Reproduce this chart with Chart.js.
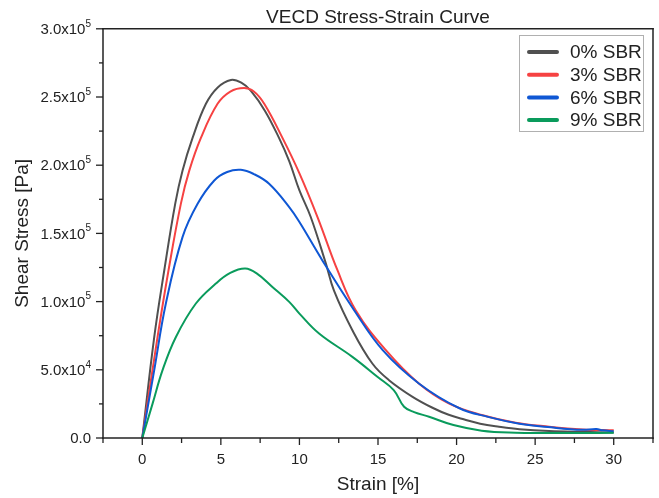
<!DOCTYPE html>
<html>
<head>
<meta charset="utf-8">
<script src="https://cdn.jsdelivr.net/npm/chart.js@4"></script>
<style>
  body { margin: 0; background: #fff; }
  canvas { display: block; }
</style>
</head>
<body>
<canvas id="chart" width="659" height="498"></canvas>
<script>
// Data (strain in %, stress in Pa)
let labels = ["0% SBR", "3% SBR", "6% SBR", "9% SBR"];
let colors = ["#505050", "#f64242", "#0f57d4", "#0a9b5c"];

let strain0 = [0, 0.76, 1.4, 2.1, 2.56, 3.2, 4.05, 4.8, 5.64, 6.3, 6.9, 7.8, 8.7, 9.35, 10, 10.72, 11.68, 12.2, 13.37, 14.64, 15.7, 17.2, 18.5, 19.5, 20.5, 21.5, 22.7, 24, 25.9, 28, 30];
let stress0 = [0, 74000, 123000, 172000, 196000, 220000, 245000, 257000, 262500, 260500, 254600, 240000, 220000, 203000, 181500, 162000, 128000, 108000, 79000, 54600, 42400, 30200, 22000, 17000, 13500, 10500, 8300, 6500, 5100, 4500, 4100];

let strain3 = [0, 0.97, 1.67, 2.46, 2.99, 3.73, 4.79, 5.6, 6.48, 7.1, 7.76, 8.92, 10, 11.15, 12.42, 13.58, 15.5, 17.6, 19.5, 21.6, 23.75, 25.9, 28, 30];
let stress3 = [0, 74000, 123000, 172000, 196000, 220000, 245000, 254000, 256600, 254000, 245000, 220000, 194000, 162000, 123000, 93700, 64400, 40000, 25400, 16800, 11200, 8300, 6300, 5600];

let strain6 = [0, 0.76, 1.5, 2.56, 3.52, 4.58, 5.4, 6.27, 7.1, 8.07, 9.35, 10, 11.46, 13.48, 15.3, 17.6, 20.15, 22, 24, 26, 28, 28.9, 29.3, 30];
let stress6 = [0, 49800, 98600, 147300, 171700, 188800, 195000, 196600, 193500, 186400, 169300, 158300, 130200, 93700, 64400, 40000, 22000, 15500, 10500, 7800, 6000, 6600, 5600, 5000];

let strain9 = [0, 0.66, 1.29, 2.14, 3.41, 4.68, 5.6, 6.55, 7.3, 8.28, 9.35, 10, 11.25, 13.37, 14.96, 16.0, 16.66, 17.3, 18.25, 19.8, 21.6, 23.75, 26, 28, 30];
let stress9 = [0, 25400, 49800, 74100, 98600, 113200, 121000, 124200, 120500, 110700, 99800, 91200, 76600, 59500, 44900, 35100, 22900, 19000, 15600, 9500, 5400, 3900, 3700, 3700, 3800];

let xMajor = [0, 5, 10, 15, 20, 25, 30];
let yMajor = [0, 50000, 100000, 150000, 200000, 250000, 300000];

let FONT = "'Liberation Sans', Arial, sans-serif";
let INK = "#222";

function pairs(xs, ys) {
    return xs.map((x, i) => ({ x: x, y: ys[i] }));
}

let series = [[strain0, stress0], [strain3, stress3], [strain6, stress6], [strain9, stress9]];
let datasets = series.map((s, i) => ({
    label: labels[i],
    data: pairs(s[0], s[1]),
    borderColor: colors[i],
    borderWidth: 2,
    pointRadius: 0,
    fill: false,
    tension: 0.4,
    order: 3 - i,
}));

function line(ctx, x1, y1, x2, y2) {
    ctx.beginPath();
    ctx.moveTo(x1, y1);
    ctx.lineTo(x2, y2);
    ctx.stroke();
}

// frame, tick marks, y labels with superscript, legend box
let decor = {
    id: "decor",
    afterDraw(chart) {
        let ctx = chart.ctx;
        let a = chart.chartArea;
        let xs = chart.scales.x;
        let ys = chart.scales.y;
        ctx.save();
        ctx.strokeStyle = INK;
        ctx.lineWidth = 1.5;
        ctx.lineCap = "square";
        line(ctx, a.left, a.top, a.right, a.top);
        line(ctx, a.right, a.top, a.right, a.bottom);
        line(ctx, a.right, a.bottom, a.left, a.bottom);
        line(ctx, a.left, a.bottom, a.left, a.top);

        // x ticks
        ctx.lineWidth = 1.3;
        ctx.lineCap = "butt";
        for (let v = -2.5; v <= 32.5; v += 2.5) {
            let px = xs.getPixelForValue(v);
            let len = xMajor.includes(v) ? 7 : 5;
            line(ctx, px, a.bottom, px, a.bottom + len);
        }
        // y ticks
        for (let v = 0; v <= 300000; v += 25000) {
            let py = ys.getPixelForValue(v);
            let len = yMajor.includes(v) ? 7 : 4;
            line(ctx, a.left, py, a.left - len, py);
        }

        // y labels like 2.5x10^5
        ctx.fillStyle = INK;
        ctx.textBaseline = "middle";
        ctx.textAlign = "left";
        let right = a.left - 12;
        yMajor.forEach(v => {
            let py = ys.getPixelForValue(v) + 1;
            if (v === 0) {
                ctx.font = "15px " + FONT;
                let w = ctx.measureText("0.0").width;
                ctx.fillText("0.0", right - w, py);
                return;
            }
            let exp = Math.floor(Math.log10(v));
            let mant = (v / Math.pow(10, exp)).toFixed(1) + "x10";
            ctx.font = "10px " + FONT;
            let ws = ctx.measureText(String(exp)).width;
            ctx.font = "15px " + FONT;
            let wm = ctx.measureText(mant).width;
            ctx.fillText(mant, right - ws - wm, py);
            ctx.font = "10px " + FONT;
            ctx.fillText(String(exp), right - ws, py - 6);
        });

        // legend
        let lx = 519, ly = 35, lw = 125, lh = 97;
        ctx.strokeStyle = "#b0b0b0";
        ctx.lineWidth = 1;
        line(ctx, lx, ly + 0.5, lx + lw, ly + 0.5);
        line(ctx, lx + lw - 0.5, ly, lx + lw - 0.5, ly + lh);
        line(ctx, lx + lw, ly + lh - 0.5, lx, ly + lh - 0.5);
        line(ctx, lx + 0.5, ly + lh, lx + 0.5, ly);
        ctx.font = "19px " + FONT;
        chart.data.datasets.forEach((ds, i) => {
            let cy = ly + 17 + i * 22.7;
            ctx.strokeStyle = ds.borderColor;
            ctx.lineWidth = 4;
            ctx.lineCap = "round";
            line(ctx, 529, cy, 557, cy);
            ctx.fillStyle = INK;
            ctx.fillText(ds.label, 570, cy + 1);
        });
        ctx.restore();
    },
};

new Chart(document.getElementById("chart"), {
    type: "line",
    data: { datasets: datasets },
    plugins: [decor],
    options: {
        responsive: false,
        animation: false,
        layout: { padding: { right: 6 } },
        plugins: {
            legend: { display: false },
            tooltip: { enabled: false },
            title: {
                display: true,
                text: "VECD Stress-Strain Curve",
                fullSize: false,
                color: INK,
                font: { family: FONT, size: 19, weight: "normal" },
                padding: { top: 6, bottom: 0 },
            },
        },
        scales: {
            x: {
                type: "linear",
                min: -2.5,
                max: 32.5,
                afterFit: s => { s.height = 60; },
                grid: { display: false },
                border: { display: false },
                ticks: {
                    stepSize: 2.5,
                    autoSkip: false,
                    maxRotation: 0,
                    padding: 5,
                    color: INK,
                    font: { family: FONT, size: 15 },
                    callback: v => (v % 5 === 0 ? String(v) : ""),
                },
                title: {
                    display: true,
                    text: "Strain [%]",
                    color: INK,
                    font: { family: FONT, size: 19 },
                    padding: { top: 0, bottom: 2 },
                },
            },
            y: {
                type: "linear",
                min: 0,
                max: 300000,
                afterFit: s => { s.width = 103; },
                grid: { display: false },
                border: { display: false },
                ticks: { display: false, stepSize: 25000 },
                title: {
                    display: true,
                    text: "Shear Stress [Pa]",
                    color: INK,
                    font: { family: FONT, size: 19 },
                    padding: { top: 11, bottom: 0 },
                },
            },
        },
    },
});
</script>
</body>
</html>
